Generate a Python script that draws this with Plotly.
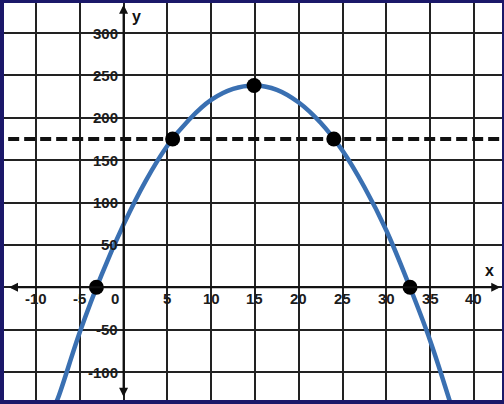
import plotly.graph_objects as go

# ---- data ----
curve_x = [-8.0, -7.5, -5.0, -2.5, 0.0, 2.5, 5.0, 7.5, 10.0, 12.5, 15.0,
           17.5, 20.0, 22.5, 25.0, 27.5, 30.0, 32.5, 35.0, 37.5, 38.0]
curve_y = [-142, -131, -53, 15, 74, 125, 167, 198, 221, 234, 238,
           233, 218, 194, 161, 118, 67, 5, -63, -143, -160]

points_x = [-3.1, 5.6, 14.9, 24.0, 32.7]
points_y = [0, 175, 238, 175, 0]

level_y = 175
level_x = [-15, 45]

x_ticks = [-10, -5, 0, 5, 10, 15, 20, 25, 30, 35, 40]
x_tick_labels = ["-10", "-5", "0", "5", "10", "15", "20", "25", "30", "35", "40"]
y_ticks = [-100, -50, 50, 100, 150, 200, 250, 300]
y_tick_labels = ["-100", "-50", "50", "100", "150", "200", "250", "300"]

x_range = [-13.65, 43.2]
y_range = [-133, 335.4]

NAVY = "#1b1869"
BLUE = "#3a70b2"
FONT = "Liberation Sans, Arial, sans-serif"
LABEL_FONT = dict(family=FONT, size=15, color="#1c1c1c", weight="bold")

fig = go.Figure()

fig.add_trace(go.Scatter(
    x=curve_x, y=curve_y, mode="lines",
    line=dict(color=BLUE, width=4.5, shape="spline", smoothing=1.0),
    hoverinfo="skip", showlegend=False))

fig.add_trace(go.Scatter(
    x=level_x, y=[level_y, level_y], mode="lines",
    line=dict(color="#111111", width=4, dash="11px,5px"),
    hoverinfo="skip", showlegend=False))

fig.add_trace(go.Scatter(
    x=points_x, y=points_y, mode="markers",
    marker=dict(color="#000000", size=15),
    hoverinfo="skip", showlegend=False))

annotations = []
# axes with arrowheads
annotations.append(dict(x=0, y=y_range[1] - 2, ax=0, ay=y_range[0] + 2,
                        xref="x", yref="y", axref="x", ayref="y",
                        text="", showarrow=True, arrowhead=2, arrowside="end+start",
                        arrowsize=0.9, arrowwidth=2, arrowcolor="#111111"))
annotations.append(dict(x=x_range[1] - 0.2, y=0, ax=x_range[0] + 0.4, ay=0,
                        xref="x", yref="y", axref="x", ayref="y",
                        text="", showarrow=True, arrowhead=2, arrowside="end+start",
                        arrowsize=0.9, arrowwidth=2, arrowcolor="#111111"))

for v, t in zip(x_ticks, x_tick_labels):
    annotations.append(dict(x=v, y=0, xref="x", yref="y", text=t, showarrow=False,
                            xanchor="center", yanchor="middle",
                            yshift=-11, xshift=(-9 if v == 0 else 0),
                            font=LABEL_FONT))
for v, t in zip(y_ticks, y_tick_labels):
    annotations.append(dict(x=0, y=v, xref="x", yref="y", text=t, showarrow=False,
                            xanchor="right", yanchor="middle", xshift=-4,
                            font=LABEL_FONT))

annotations.append(dict(x=0, y=y_range[1], xref="x", yref="y", text="<b>y</b>",
                        showarrow=False, xanchor="left", yanchor="top",
                        xshift=6, yshift=-3,
                        font=dict(family=FONT, size=16, color="#111111")))
annotations.append(dict(x=x_range[1], y=0, xref="x", yref="y", text="<b>x</b>",
                        showarrow=False, xanchor="right", yanchor="bottom",
                        xshift=-6, yshift=6,
                        font=dict(family=FONT, size=16, color="#111111")))

fig.update_layout(
    width=504, height=404,
    margin=dict(l=4, r=2, t=3, b=4, pad=0),
    paper_bgcolor=NAVY, plot_bgcolor="white",
    annotations=annotations,
    xaxis=dict(range=x_range, tick0=0, dtick=5, showgrid=True, gridcolor="#222222",
               gridwidth=2, zeroline=False, showticklabels=False, ticks="",
               showline=False, fixedrange=True),
    yaxis=dict(range=y_range, tick0=0, dtick=50, showgrid=True, gridcolor="#222222",
               gridwidth=2, zeroline=False, showticklabels=False, ticks="",
               showline=False, fixedrange=True),
)

fig.write_html("out.html", config={"displayModeBar": False},
               post_script="document.body.style.margin='0';document.body.style.overflow='hidden';")
